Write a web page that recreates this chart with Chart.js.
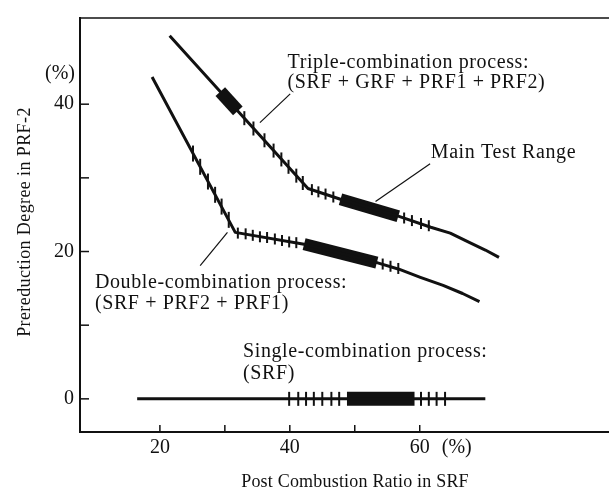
<!DOCTYPE html>
<html>
<head>
<meta charset="utf-8">
<script src="https://cdn.jsdelivr.net/npm/chart.js"></script>
<style>
  html, body { margin: 0; padding: 0; background: #fff; overflow: hidden; }
  #srfChart { display: block; }
</style>
</head>
<body>
<canvas id="srfChart" width="609" height="497"></canvas>
<script>
// Post combustion ratio (%) -> prereduction degree (%)
const tripleX = [21.5, 42.8, 47.8, 56.7, 61.7, 64.7, 67.7, 70.1, 72.2];
const tripleY = [49.3, 28.55, 27.1, 24.8, 23.3, 22.5, 21.2, 20.2, 19.2];
const doubleX = [18.8, 31.6, 42.2, 53.4, 56.8, 60.1, 63.6, 66.6, 69.2];
const doubleY = [43.7, 22.6, 21.0, 18.5, 17.6, 16.5, 15.4, 14.3, 13.2];
const singleX = [16.5, 70.1];
const singleY = [0, 0];

// thick "main test range" bars (start, end)
const tripleEarlyX = [29.3, 32.0];
const tripleEarlyY = [41.7, 39.1];
const tripleRangeX = [47.8, 56.7];
const tripleRangeY = [27.1, 24.8];
const doubleRangeX = [42.2, 53.4];
const doubleRangeY = [21.0, 18.5];
const singleRangeX = [48.8, 59.2];
const singleRangeY = [0, 0];

// test points (short hatch marks on the lines)
const tripleSteepX = [33.0, 34.4, 36.1, 37.5, 38.7, 39.8, 41.0, 42.0];
const tripleSteepY = [38.1, 36.7, 35.1, 33.7, 32.5, 31.5, 30.3, 29.3];
const tripleFlatX = [43.4, 44.4, 45.5, 46.7, 57.6, 58.8, 60.2, 61.4];
const tripleFlatY = [28.4, 28.1, 27.8, 27.4, 24.55, 24.2, 23.8, 23.5];
const doubleSteepX = [25.1, 26.2, 27.4, 28.5, 29.5, 30.6];
const doubleSteepY = [33.3, 31.5, 29.5, 27.7, 26.1, 24.3];
const doubleFlatX = [32.0, 33.2, 34.3, 35.4, 36.5, 37.7, 38.8, 39.9, 41.0, 54.3, 55.5, 56.7];
const doubleFlatY = [22.5, 22.4, 22.2, 22.0, 21.9, 21.7, 21.5, 21.3, 21.2, 18.3, 18.0, 17.7];
const singleTickX = [39.9, 41.3, 42.5, 43.7, 45.0, 46.4, 47.6, 60.2, 61.4, 62.6, 63.9];
const singleTickY = [0, 0, 0, 0, 0, 0, 0, 0, 0, 0, 0];

const xTickValues = [20, 30, 40, 50, 60];
const xTickLabels = ["20", "", "40", "", "60"];
const yTickValues = [0, 10, 20, 30, 40];
const yTickLabels = ["0", "", "20", "", "40"];

const INK = "#111";
const SERIF = "'Liberation Serif', 'Times New Roman', serif";

const pts = (xs, ys) => xs.map((x, i) => ({ x, y: ys[i] }));

const lineSet = (xs, ys, width) => ({
  type: "line",
  data: pts(xs, ys),
  borderColor: INK,
  borderWidth: width,
  borderCapStyle: "butt",
  borderJoinStyle: "round",
  pointRadius: 0,
  tension: 0,
  fill: false,
});

const hatchSet = (xs, ys, half) => ({
  type: "scatter",
  data: pts(xs, ys),
  pointStyle: "line",
  rotation: 90,
  pointRadius: half,
  borderColor: INK,
  borderWidth: 2,
  backgroundColor: INK,
});

// annotation text + leader lines, placed in data units
const notes = [
  { text: "Triple-combination process:", x: 39.65, y: 45.6 },
  { text: "(SRF + GRF + PRF1 + PRF2)", x: 39.65, y: 42.9 },
  { text: "Main Test Range", x: 61.7, y: 33.4 },
  { text: "Double-combination process:", x: 10.0, y: 15.8 },
  { text: "(SRF + PRF2 + PRF1)", x: 10.0, y: 12.9 },
  { text: "Single-combination process:", x: 32.8, y: 6.4 },
  { text: "(SRF)", x: 32.8, y: 3.4 },
];
const leaders = [
  [40.06, 41.4, 35.4, 37.5],
  [61.6, 31.9, 53.2, 26.8],
  [30.4, 22.6, 26.2, 18.1],
];

const framePlugin = {
  id: "frame",
  afterDraw(chart) {
    const { ctx, chartArea: a, scales } = chart;
    const sx = scales.x, sy = scales.y;
    const edge = chart.width;
    ctx.save();
    ctx.strokeStyle = INK;
    ctx.fillStyle = INK;
    ctx.lineCap = "square";

    // frame: left, bottom, top (open on the right)
    ctx.lineWidth = 2;
    ctx.beginPath();
    ctx.moveTo(a.left, a.top);
    ctx.lineTo(a.left, a.bottom);
    ctx.lineTo(edge, a.bottom);
    ctx.stroke();
    ctx.lineWidth = 1.5;
    ctx.beginPath();
    ctx.moveTo(a.left, a.top);
    ctx.lineTo(edge, a.top);
    ctx.stroke();

    // inward ticks
    ctx.lineWidth = 1.5;
    ctx.lineCap = "butt";
    yTickValues.forEach((v) => {
      const py = sy.getPixelForValue(v);
      ctx.beginPath();
      ctx.moveTo(a.left, py);
      ctx.lineTo(a.left + 9, py);
      ctx.stroke();
    });
    xTickValues.forEach((v) => {
      const px = sx.getPixelForValue(v);
      ctx.beginPath();
      ctx.moveTo(px, a.bottom);
      ctx.lineTo(px, a.bottom - 7);
      ctx.stroke();
    });

    // leader lines
    ctx.lineWidth = 1.2;
    leaders.forEach(([x1, y1, x2, y2]) => {
      ctx.beginPath();
      ctx.moveTo(sx.getPixelForValue(x1), sy.getPixelForValue(y1));
      ctx.lineTo(sx.getPixelForValue(x2), sy.getPixelForValue(y2));
      ctx.stroke();
    });

    // annotation text
    ctx.font = "20px " + SERIF;
    ctx.letterSpacing = "0.6px";
    ctx.textAlign = "left";
    ctx.textBaseline = "middle";
    notes.forEach((n) => {
      ctx.fillText(n.text, sx.getPixelForValue(n.x), sy.getPixelForValue(n.y));
    });

    // unit marks
    ctx.letterSpacing = "0px";
    ctx.textAlign = "right";
    ctx.fillText("(%)", a.left - 5, sy.getPixelForValue(44.1));
    ctx.textAlign = "left";
    ctx.fillText("(%)", sx.getPixelForValue(60) + 22, a.bottom + 16);

    // axis titles
    ctx.font = "18px " + SERIF;
    ctx.letterSpacing = "0.2px";
    ctx.textAlign = "center";
    ctx.fillText("Post Combustion Ratio in SRF", 355, a.bottom + 50);
    ctx.letterSpacing = "0.4px";
    ctx.translate(25, 222);
    ctx.rotate(-Math.PI / 2);
    ctx.fillText("Prereduction Degree in PRF-2", 0, 0);
    ctx.restore();
  },
};

const tickFont = { family: SERIF, size: 20 };

new Chart(document.getElementById("srfChart"), {
  type: "scatter",
  data: {
    datasets: [
      lineSet(tripleX, tripleY, 3),
      lineSet(doubleX, doubleY, 3),
      lineSet(singleX, singleY, 3),
      lineSet(tripleEarlyX, tripleEarlyY, 13),
      lineSet(tripleRangeX, tripleRangeY, 12),
      lineSet(doubleRangeX, doubleRangeY, 12),
      lineSet(singleRangeX, singleRangeY, 14),
      hatchSet(tripleSteepX, tripleSteepY, 7),
      hatchSet(tripleFlatX, tripleFlatY, 5.5),
      hatchSet(doubleSteepX, doubleSteepY, 8),
      hatchSet(doubleFlatX, doubleFlatY, 5.5),
      hatchSet(singleTickX, singleTickY, 7),
    ],
  },
  options: {
    responsive: false,
    animation: false,
    events: [],
    layout: { padding: { top: 15, right: 0, bottom: 0, left: 0 } },
    plugins: {
      legend: { display: false },
      tooltip: { enabled: false },
    },
    scales: {
      x: {
        type: "linear",
        position: "bottom",
        min: 7.7,
        max: 87.6,
        afterFit: (s) => { s.height = 65; },
        afterBuildTicks: (s) => { s.ticks = xTickValues.map((v) => ({ value: v })); },
        grid: { display: false, drawTicks: false },
        border: { display: false },
        ticks: {
          autoSkip: false,
          maxRotation: 0,
          padding: 4,
          color: INK,
          font: tickFont,
          callback: (v) => xTickLabels[xTickValues.indexOf(Math.round(v))] ?? "",
        },
      },
      y: {
        type: "linear",
        min: -4.5,
        max: 51.7,
        afterFit: (s) => { s.width = 80; },
        afterBuildTicks: (s) => { s.ticks = yTickValues.map((v) => ({ value: v })); },
        grid: { display: false, drawTicks: false },
        border: { display: false },
        ticks: {
          autoSkip: false,
          padding: 6,
          color: INK,
          font: tickFont,
          callback: (v) => yTickLabels[yTickValues.indexOf(Math.round(v))] ?? "",
        },
      },
    },
  },
  plugins: [framePlugin],
});
</script>
</body>
</html>
